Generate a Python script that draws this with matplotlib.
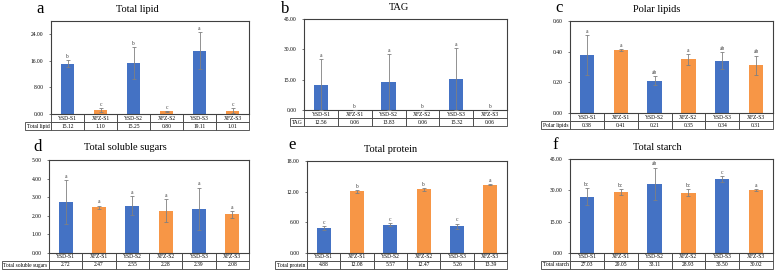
import matplotlib.pyplot as plt
from matplotlib.table import Table

plt.rcParams['font.family'] = ['Liberation Serif', 'DejaVu Serif']

# groups (x axis)
groups = ['YSD-S1', 'XFZ-S1', 'YSD-S2', 'XFZ-S2', 'YSD-S3', 'XFZ-S3']

# panel a - total lipid
lipid = [15.12, 1.10, 15.25, 0.80, 19.11, 1.01]
lipid_err = [1.0, 0.6, 4.8, 0.1, 5.5, 0.8]
lipid_sig = ['b', 'c', 'b', 'c', 'a', 'c']

# panel b - TAG
tag = [12.56, 0.06, 13.83, 0.06, 15.32, 0.06]
tag_err = [12.5, 0.0, 13.7, 0.0, 15.2, 0.0]
tag_sig = ['a', 'b', 'a', 'b', 'a', 'b']

# panel c - polar lipids
polar = [0.38, 0.41, 0.21, 0.35, 0.34, 0.31]
polar_err = [0.13, 0.005, 0.03, 0.035, 0.055, 0.065]
polar_sig = ['a', 'a', 'ab', 'a', 'ab', 'ab']

# panel d - total soluble sugars
sugar = [2.72, 2.47, 2.55, 2.28, 2.39, 2.08]
sugar_err = [1.18, 0.08, 0.53, 0.6, 1.13, 0.19]
sugar_sig = ['a', 'a', 'a', 'a', 'a', 'a']

# panel e - total protein
protein = [4.88, 12.08, 5.57, 12.47, 5.26, 13.39]
protein_err = [0.4, 0.3, 0.3, 0.3, 0.5, 0.15]
protein_sig = ['c', 'b', 'c', 'b', 'c', 'a']

# panel f - total starch
starch = [27.03, 29.05, 33.11, 28.93, 35.50, 30.02]
starch_err = [4.0, 1.5, 7.8, 1.7, 1.5, 0.5]
starch_sig = ['bc', 'bc', 'ab', 'bc', 'c', 'a']

blue = '#4472C4'
orange = '#F79646'
cols = [blue, orange] * 3
edge = '#404040'

W, H = 778, 272
fig = plt.figure(figsize=(W / 100, H / 100), dpi=100)


def panel(box, tab_x, letter, let_xy, title, vals, errs, sig, ymax, step, rowname):
    x0, y0, x1, y1 = box
    ax = fig.add_axes([x0 / W, 1 - y1 / H, (x1 - x0) / W, (y1 - y0) / H])
    xs = range(len(vals))
    ax.bar(xs, vals, width=0.42, color=cols, zorder=2)
    ax.errorbar(xs, vals, yerr=errs, fmt='none', ecolor='#808080',
                elinewidth=0.6, capsize=1.2, capthick=0.6, zorder=3)
    for i in xs:
        ax.annotate(sig[i], (i, vals[i] + errs[i]), xytext=(0, 0.8),
                    textcoords='offset points', ha='center', va='bottom',
                    fontsize=4, color='#404040')
    ticks = []
    t = 0.0
    while t <= ymax + 1e-9:
        ticks.append(t)
        t += step
    ax.set_yticks(ticks)
    ax.set_yticklabels(['%.2f' % t for t in ticks], fontsize=4)
    ax.set_xlim(-0.5, 5.5)
    ax.set_ylim(0, ymax)
    ax.tick_params(axis='y', length=1.5, width=0.5, pad=4, color=edge)
    ax.set_xticks([])
    for s in ax.spines.values():
        s.set_color(edge)
        s.set_linewidth(0.8)

    # title centred over plot + table label column
    tx = (tab_x + x1) / 2
    fig.text(tx / W, 1 - (y0 - 12) / H, title, fontsize=7.5,
             ha='center', va='center')
    fig.text(let_xy[0] / W, 1 - let_xy[1] / H, letter, fontsize=12,
             ha='left', va='center')

    # data table below the plot
    ph = y1 - y0
    pw = x1 - x0
    rh = 8.0 / ph
    lw = (x0 - tab_x) / pw
    tb = Table(ax, bbox=[0, -2 * rh, 1, 2 * rh])
    for j, g in enumerate(groups):
        c = tb.add_cell(0, j, width=1 / 6, height=rh, text=g, loc='center')
        c.set_edgecolor(edge)
        c.set_linewidth(0.6)
        c = tb.add_cell(1, j, width=1 / 6, height=rh, text='%.2f' % vals[j],
                        loc='center')
        c.set_edgecolor(edge)
        c.set_linewidth(0.6)
    c = tb.add_cell(1, -1, width=lw, height=rh, text=rowname, loc='center')
    c.set_edgecolor(edge)
    c.set_linewidth(0.6)
    tb.auto_set_font_size(False)
    tb.set_fontsize(4)
    ax.add_table(tb)
    return ax


panel((51, 21, 249, 114), 25, 'a', (36, 9), 'Total lipid', lipid, lipid_err,
      lipid_sig, 28, 8, 'Total lipid')
panel((304, 19, 507, 110), 290, 'b', (281, 9), 'TAG', tag, tag_err,
      tag_sig, 45, 15, 'TAG')
panel((570, 21, 773, 113), 541, 'c', (555, 8), 'Polar lipids', polar, polar_err,
      polar_sig, 0.6, 0.2, 'Polar lipids')
panel((49, 160, 249, 253), 2, 'd', (33, 147), 'Total soluble sugars', sugar,
      sugar_err, sugar_sig, 5, 1, 'Total soluble sugars')
panel((307, 161, 507, 253), 275, 'e', (288, 145), 'Total protein', protein,
      protein_err, protein_sig, 18, 6, 'Total protein')
panel((570, 159, 773, 253), 541, 'f', (552, 145), 'Total starch', starch,
      starch_err, starch_sig, 45, 15, 'Total starch')

fig.savefig('out.png', dpi=100)
